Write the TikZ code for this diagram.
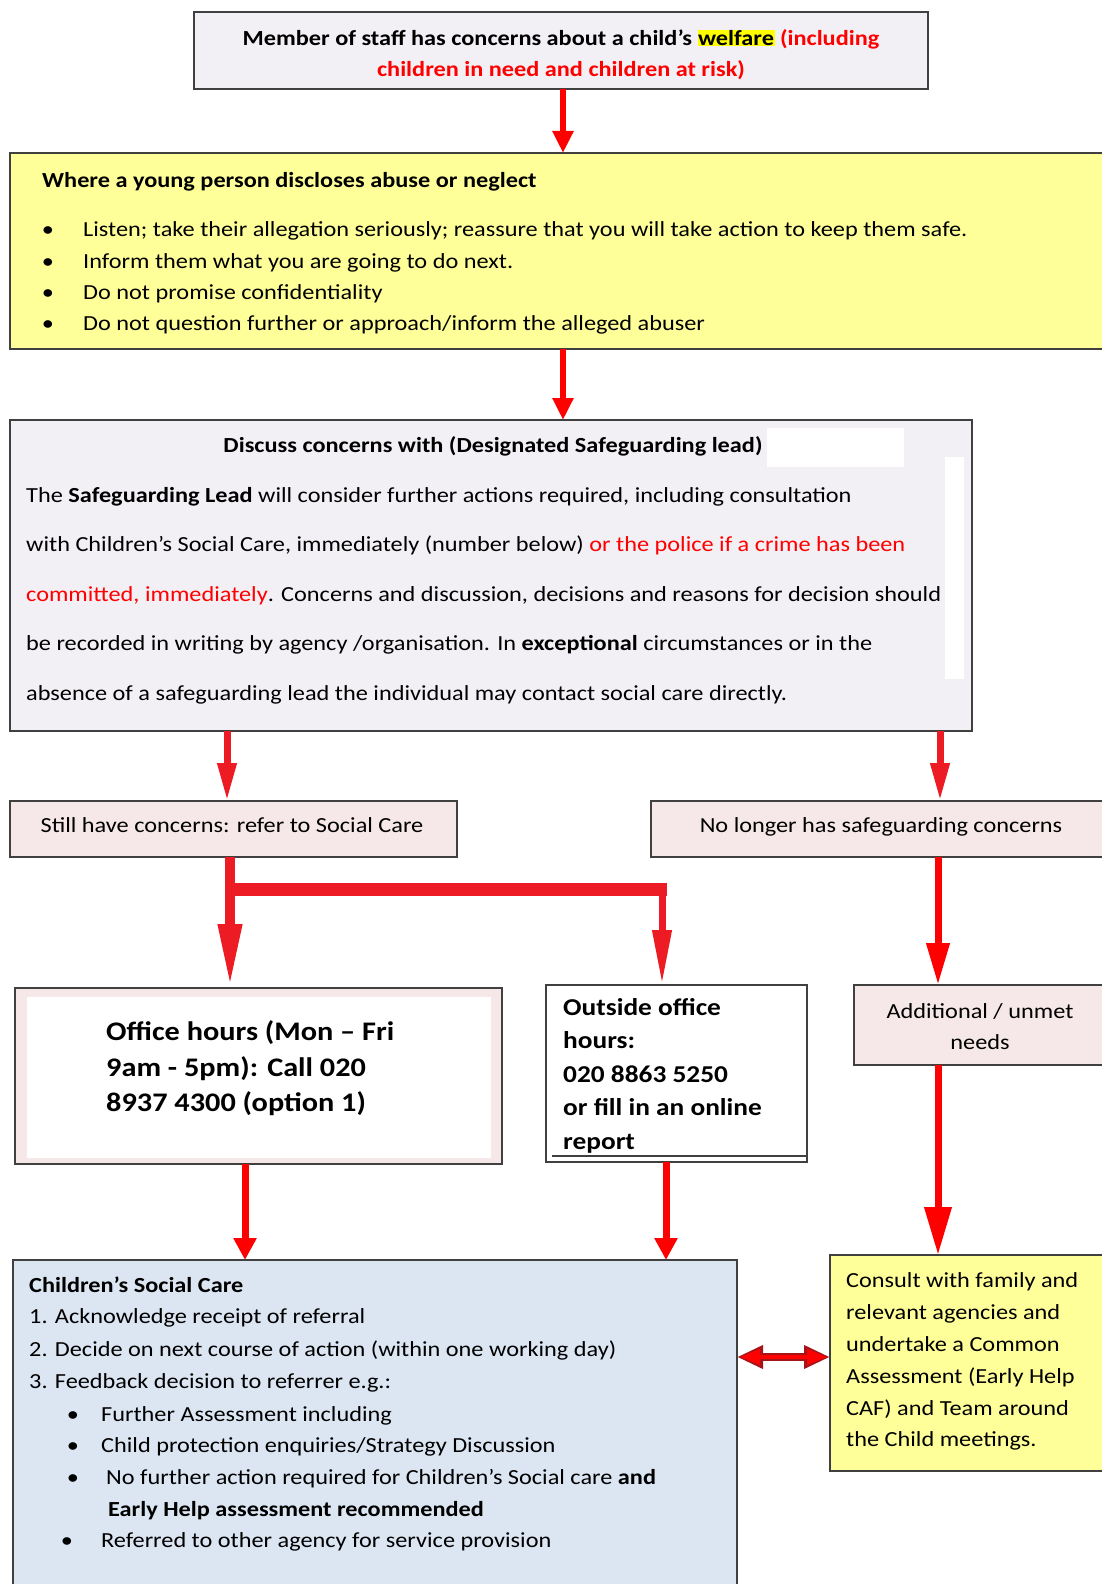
\documentclass[tikz,border=0pt]{standalone}
\usepackage{fontspec}
\setmainfont{Carlito}[FakeStretch=1.13]
\usetikzlibrary{arrows.meta,calc}
\definecolor{bord}{HTML}{404040}
\definecolor{lav}{HTML}{F2F0F5}
\definecolor{yel}{HTML}{FFFF99}
\definecolor{pnk}{HTML}{F6E8E8}
\definecolor{blu}{HTML}{DCE6F2}
\definecolor{dred}{HTML}{ED1C24}
\definecolor{bred}{HTML}{FF0000}
\definecolor{hlyel}{HTML}{FFFF00}
\newcommand\fA{\fontsize{21.5}{26}\selectfont}
\newcommand\fB{\fontsize{26.8}{31}\selectfont}
\newcommand\fC{\fontsize{24.2}{28}\selectfont}
\newcommand\hlt[1]{{\setlength{\fboxsep}{0.5pt}\colorbox{hlyel}{#1}}}
\begin{document}
\begin{tikzpicture}[x=1pt,y=-1pt,
  box/.style={draw=bord, line width=1.8pt, inner sep=0pt, outer sep=0pt, anchor=north west},
  txt/.style={inner sep=0pt, anchor=mid west, font=\fA},
  ctxt/.style={inner sep=0pt, anchor=mid, font=\fA},
  bul/.style={inner sep=0pt, anchor=mid, font=\fA},
  arrA/.style={draw=bred, line width=6pt, -{Triangle[length=22pt,width=20pt]}},
  arrD/.style={draw=dred, line width=7pt, -{Triangle[length=38pt,width=18pt]}},
  arrL/.style={draw=dred, line width=10pt, -{Triangle[length=64pt,width=22pt]}},
  arrM/.style={draw=dred, line width=7pt, -{Triangle[length=55pt,width=18pt]}},
  arrR/.style={draw=bred, line width=7pt, -{Triangle[length=42pt,width=22pt]}},
  arrS/.style={draw=bred, line width=7pt, -{Triangle[length=22pt,width=22pt]}},
]
\fill[white] (0,0) rectangle (1101,1584);
\useasboundingbox (0,0) rectangle (1101,1584);

% x positions of connectors
\coordinate (xA) at (563,0);
\coordinate (xL) at (227,0);
\coordinate (xR) at (940,0);
\coordinate (xL2) at (230,0);
\coordinate (xM) at (662,0);
\coordinate (xR2) at (938,0);
\coordinate (xO) at (245,0);
\coordinate (xOut) at (666,0);
\coordinate (yD) at (0,1357);
\coordinate (br) at (230,889);

% ---------- boxes ----------
\node[box, fill=lav, minimum width=734pt, minimum height=77pt] (top) at (194,12) {};
\node[box, fill=yel, minimum width=1105pt, minimum height=196pt] (yel) at (10,153) {};
\node[box, fill=lav, minimum width=962pt, minimum height=311pt] (disc) at (10,420) {};
\fill[white] (767,428) rectangle (904,467);
\fill[white] (945,457) rectangle (964,679);
\node[box, fill=pnk, minimum width=447pt, minimum height=56pt] (still) at (10,801) {};
\node[box, fill=pnk, minimum width=464pt, minimum height=56pt] (nolong) at (651,801) {};
\node[box, fill=pnk, minimum width=487pt, minimum height=176pt] (office) at (15,988) {};
\fill[white] (27,997) rectangle (491,1158);
\node[box, fill=white, minimum width=261pt, minimum height=177pt] (out) at (546,985) {};
\draw[bord, line width=1.5pt] ($(out.south west)+(6,-6)$) -- ($(out.south east)+(0,-6)$);
\node[box, fill=pnk, minimum width=261pt, minimum height=80pt] (addl) at (854,985) {};
\node[box, fill=blu, minimum width=724pt, minimum height=340pt] (csc) at (13,1260) {};
\node[box, fill=yel, minimum width=285pt, minimum height=216pt] (cons) at (830,1255) {};

% ---------- texts ----------
\begin{scope}[yshift=-6pt]
\node[ctxt, font=\fA\bfseries] (t1) at (561,37) {Member of staff has concerns about a child’s \hlt{welfare} \textcolor{bred}{(including}};
\node[ctxt, font=\fA\bfseries, text=bred] (t2) at (561,68) {children in need and children at risk)};

\node[txt, font=\fA\bfseries] (y0) at (42,179) {Where a young person discloses abuse or neglect};
\node[bul] (yb1) at (48,228) {•};
\node[txt] (y1) at (83,228) {Listen; take their allegation seriously; reassure that you will take action to keep them safe.};
\node[bul] (yb2) at (48,260) {•};
\node[txt] (y2) at (83,260) {Inform them what you are going to do next.};
\node[bul] (yb3) at (48,291) {•};
\node[txt] (y3) at (83,291) {Do not promise confidentiality};
\node[bul] (yb4) at (48,322) {•};
\node[txt] (y4) at (83,322) {Do not question further or approach/inform the alleged abuser};

\node[ctxt, font=\fA\bfseries] (d0) at (493,444) {Discuss concerns with (Designated Safeguarding lead)};
\node[txt] (d1) at (26,494) {The \textbf{Safeguarding Lead} will consider further actions required, including consultation};
\node[txt] (d2) at (26,543) {with Children’s Social Care, immediately (number below) \textcolor{bred}{or the police if a crime has been}};
\node[txt] (d3) at (26,593) {\textcolor{bred}{committed, immediately}. Concerns and discussion, decisions and reasons for decision should};
\node[txt] (d4) at (26,642) {be recorded in writing by agency /organisation. In \textbf{exceptional} circumstances or in the};
\node[txt] (d5) at (26,692) {absence of a safeguarding lead the individual may contact social care directly.};

\node[ctxt] (s1) at (232,824) {Still have concerns: refer to Social Care};
\node[ctxt] (n1) at (881,824) {No longer has safeguarding concerns};

\node[txt, font=\fB\bfseries] (o1) at (106,1032) {Office hours (Mon – Fri};
\node[txt, font=\fB\bfseries] (o2) at (106,1068) {9am - 5pm): Call 020};
\node[txt, font=\fB\bfseries] (o3) at (106,1103) {8937 4300 (option 1)};

\node[txt, font=\fC\bfseries] (u1) at (563,1007) {Outside office};
\node[txt, font=\fC\bfseries] (u2) at (563,1040) {hours:};
\node[txt, font=\fC\bfseries] (u3) at (563,1074) {020 8863 5250};
\node[txt, font=\fC\bfseries] (u4) at (563,1107) {or fill in an online};
\node[txt, font=\fC\bfseries] (u5) at (563,1141) {report};

\node[ctxt] (a1) at (980,1010) {Additional / unmet};
\node[ctxt] (a2) at (980,1041) {needs};

\node[txt, font=\fA\bfseries] (c0) at (29,1284) {Children’s Social Care};
\node[txt] (c1) at (29,1315) {1. Acknowledge receipt of referral};
\node[txt] (c2) at (29,1348) {2. Decide on next course of action (within one working day)};
\node[txt] (c3) at (29,1380) {3. Feedback decision to referrer e.g.:};
\node[bul] (cb1) at (73,1413) {•};
\node[txt] (c4) at (101,1413) {Further Assessment including};
\node[bul] (cb2) at (73,1444) {•};
\node[txt] (c5) at (101,1444) {Child protection enquiries/Strategy Discussion};
\node[bul] (cb3) at (73,1476) {•};
\node[txt] (c6) at (106,1476) {No further action required for Children’s Social care \textbf{and}};
\node[txt, font=\fA\bfseries] (c7) at (108,1508) {Early Help assessment recommended};
\node[bul] (cb4) at (67,1539) {•};
\node[txt] (c8) at (101,1539) {Referred to other agency for service provision};

\node[txt] (k1) at (846,1279) {Consult with family and};
\node[txt] (k2) at (846,1311) {relevant agencies and};
\node[txt] (k3) at (846,1343) {undertake a Common};
\node[txt] (k4) at (846,1375) {Assessment (Early Help};
\node[txt] (k5) at (846,1407) {CAF) and Team around};
\node[txt] (k6) at (846,1438) {the Child meetings.};
\end{scope}

% ---------- connectors ----------
\draw[arrA] (top.south -| xA) -- (yel.north -| xA);
\draw[arrA] (yel.south -| xA) -- (disc.north -| xA);
\draw[arrD] (disc.south -| xL) -- (still.north -| xL);
\draw[arrD] (disc.south -| xR) -- (nolong.north -| xR);
\draw[arrL] (still.south -| xL2) -- (office.north -| xL2);
\draw[dred, line width=13pt] ($(br)+(-5,0)$) -- ($(br -| xM)+(5,0)$);
\draw[arrM] (br -| xM) -- (out.north -| xM);
\draw[arrR] (nolong.south -| xR2) -- (addl.north -| xR2);
\draw[arrS] (office.south -| xO) -- (csc.north -| xO);
\draw[arrS] (out.south -| xOut) -- (csc.north -| xOut);
\draw[arrR, -{Triangle[length=48pt,width=26pt]}] (addl.south -| xR2) -- (cons.north -| xR2);
\draw[draw=dred!70!black, line width=8pt, {Triangle[length=26pt,width=22pt]}-{Triangle[length=26pt,width=22pt]}] (csc.east |- yD) -- (cons.west |- yD);
\draw[draw=bred, line width=4pt, shorten <=3pt, shorten >=3pt, {Triangle[length=20pt,width=15pt]}-{Triangle[length=20pt,width=15pt]}] (csc.east |- yD) -- (cons.west |- yD);
\end{tikzpicture}
\end{document}
